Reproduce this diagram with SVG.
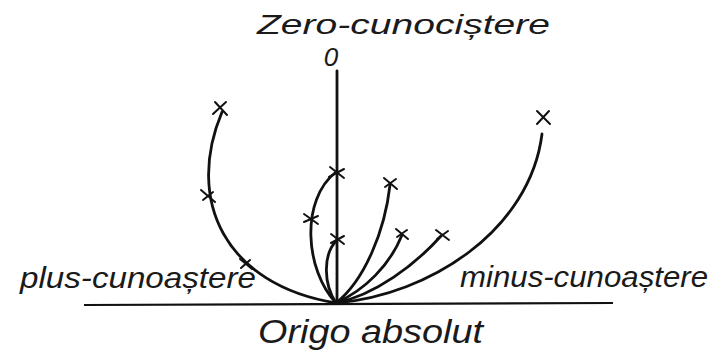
<svg xmlns="http://www.w3.org/2000/svg" width="717" height="356" viewBox="0 0 717 356">
<style>
.t{font-family:"Liberation Sans","DejaVu Sans",sans-serif;font-style:italic;fill:#1a1a1a}
.c{fill:none;stroke:#111;stroke-width:2.8;stroke-linecap:round}
.x{fill:none;stroke:#111;stroke-width:2;stroke-linecap:round}
</style>
<rect width="717" height="356" fill="#fff"/>
<g id="baseline"><line x1="84" y1="305" x2="613" y2="303" stroke="#111" stroke-width="2.2"/></g>
<g id="connectors">
<line class="c" x1="337" y1="71" x2="337" y2="303"/>
<path class="c" d="M336,303 C225,285 185,200 222,112"/>
<path class="c" d="M336,303 C305,270 300,200 336,172"/>
<path class="c" d="M336,303 C324,285 322,255 337,240"/>
<path class="c" d="M336,303 C365,280 385,230 390,185"/>
<path class="c" d="M336,303 C365,290 390,265 402,235"/>
<path class="c" d="M336,303 C375,295 415,265 441,236"/>
<path class="c" d="M336,303 C430,295 530,230 542,134"/>
</g>
<g id="markers">
<path class="x" d="M215,102 L227,115 M226,102 L213,114"/>
<path class="x" d="M201,190 L215,202 M203,200 L213,192"/>
<path class="x" d="M240,259 L252,269 M241,268 L250,260"/>
<path class="x" d="M330,167 L344,178 M329,177 L344,169"/>
<path class="x" d="M304,214 L318,224 M304,222 L318,216"/>
<path class="x" d="M331,234 L344,244 M331,243 L344,236"/>
<path class="x" d="M384,178 L397,189 M385,187 L396,179"/>
<path class="x" d="M396,229 L408,239 M397,237 L407,230"/>
<path class="x" d="M436,230 L449,240 M437,239 L448,231"/>
<path class="x" d="M537,111 L550,124 M549,111 L537,124"/>
</g>
<g id="labels">
<text class="t" x="257" y="34" font-size="28" textLength="293" lengthAdjust="spacingAndGlyphs">Zero-cunociștere</text>
<text class="t" x="331" y="66" font-size="26" text-anchor="middle">0</text>
<text class="t" x="20" y="288" font-size="30" textLength="236" lengthAdjust="spacingAndGlyphs">plus-cunoaștere</text>
<text class="t" x="460" y="287" font-size="30" textLength="248" lengthAdjust="spacingAndGlyphs">minus-cunoaștere</text>
<text class="t" x="258" y="343" font-size="33" textLength="225" lengthAdjust="spacingAndGlyphs">Origo absolut</text>
</g>
</svg>
